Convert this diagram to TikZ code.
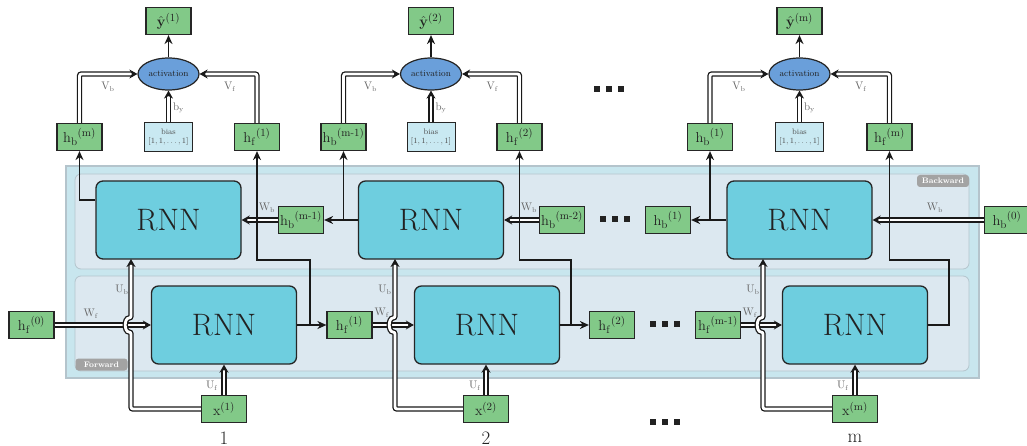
\documentclass[tikz,border=0pt]{standalone}
\usepackage{amsmath}
\usetikzlibrary{arrows.meta,shapes.geometric,calc}
\definecolor{gboxc}{HTML}{82C988}
\definecolor{rnnc}{HTML}{6ECEDF}
\definecolor{actc}{HTML}{6A9FDA}
\definecolor{biasc}{HTML}{C9E9F2}
\definecolor{outerc}{HTML}{C8E6EE}
\definecolor{innerc}{HTML}{DCE8F0}
\definecolor{panelb}{HTML}{B4C4CC}
\definecolor{tabc}{HTML}{A3A3A3}
\definecolor{lblc}{HTML}{666666}
\definecolor{txtc}{HTML}{222222}
\newcommand{\mysq}[2]{\fill[txtc] (#1-3,#2-3) rectangle (#1+3,#2+3);}
\newcommand{\mydots}[2]{\mysq{#1-12}{#2}\mysq{#1}{#2}\mysq{#1+12}{#2}}
\begin{document}
\begin{tikzpicture}[x=1pt,y=-1pt,
 gbox/.style={draw=black!85, line width=1.2pt, fill=gboxc, minimum width=45pt, minimum height=27pt, inner sep=0pt, font=\fontsize{15}{15}\selectfont, text=txtc},
 rnn/.style={draw=black!85, line width=1.3pt, fill=rnnc, rounded corners=7pt, minimum width=145pt, minimum height=78pt, inner sep=0pt, font=\fontsize{31}{31}\selectfont, text=txtc},
 act/.style={ellipse, draw=black!85, line width=1.2pt, fill=actc, minimum width=61pt, minimum height=32pt, inner sep=0pt, font=\fontsize{9}{9}\selectfont, text=txtc},
 biasbox/.style={draw=black!85, line width=1pt, fill=biasc, minimum width=48pt, minimum height=29pt, inner sep=0pt, align=center, font=\fontsize{8}{9}\selectfont, text=black!70},
 wlbl/.style={text=lblc, font=\fontsize{10.5}{10.5}\selectfont, inner sep=0pt},
 tab/.style={fill=tabc, rounded corners=3pt, text=white, font=\fontsize{8}{8}\selectfont\bfseries, inner sep=0pt},
 conn/.style={line width=1.7pt, draw=black!90, -{Stealth[length=9pt,width=8pt]}},
 dconn/.style={double, double distance=2.8pt, line width=1.3pt, draw=black!90, rounded corners=2pt, -{Stealth[length=8pt,width=9pt]}},
 seqlbl/.style={font=\fontsize{19}{19}\selectfont, text=txtc, inner sep=0pt}]
\useasboundingbox (0,0) rectangle (1027,446);
% panels
\draw[fill=outerc, draw=panelb, line width=1.3pt] (66,166) rectangle (979,378);
\draw[fill=innerc, draw=panelb, line width=0.8pt, rounded corners=6pt] (75,174) rectangle (969,269);
\draw[fill=innerc, draw=panelb, line width=0.8pt, rounded corners=6pt] (75,276) rectangle (969,371);
\node[tab, minimum width=52pt, minimum height=12pt] (fwdtab) at (101.5,364.5) {Forward};
\node[tab, minimum width=52pt, minimum height=12pt] (bwdtab) at (943,181) {Backward};
% RNN blocks
\node[rnn] (B1) at (168.5,220) {RNN};
\node[rnn] (B2) at (431,220) {RNN};
\node[rnn] (B3) at (799.5,220) {RNN};
\node[rnn] (F1) at (224,325) {RNN};
\node[rnn] (F2) at (487,325) {RNN};
\node[rnn] (F3) at (855,325) {RNN};
% backward row boxes
\node[gbox] (hbm1m) at (301,220) {$\mathrm{h_b}^{\mathrm{(m\text{-}1)}}$};
\node[gbox] (hbm2m) at (562,220) {$\mathrm{h_b}^{\mathrm{(m\text{-}2)}}$};
\node[gbox] (hb1m) at (668,220) {$\mathrm{h_b}^{\mathrm{(1)}}$};
\node[gbox] (hb0) at (1007,220) {$\mathrm{h_b}^{\mathrm{(0)}}$};
% forward row boxes
\node[gbox] (hf0) at (31.5,325) {$\mathrm{h_f}^{\mathrm{(0)}}$};
\node[gbox] (hf1m) at (349.5,325) {$\mathrm{h_f}^{\mathrm{(1)}}$};
\node[gbox] (hf2m) at (612,325) {$\mathrm{h_f}^{\mathrm{(2)}}$};
\node[gbox] (hfm1m) at (718,325) {$\mathrm{h_f}^{\mathrm{(m\text{-}1)}}$};
% inputs
\node[gbox] (x1) at (224,409) {$\mathrm{x}^{(1)}$};
\node[gbox] (x2) at (486,409) {$\mathrm{x}^{(2)}$};
\node[gbox] (xm) at (855,409) {$\mathrm{x}^{(\mathrm{m})}$};
\node[seqlbl] (s1) at (224,438) {1};
\node[seqlbl] (s2) at (486,438) {2};
\node[seqlbl] (sm) at (855,438) {m};
% top section
\node[gbox] (y1) at (168.5,21) {$\hat{\mathbf{y}}^{(1)}$};
\node[gbox] (y2) at (431,21) {$\hat{\mathbf{y}}^{(2)}$};
\node[gbox] (ym) at (799.5,21) {$\hat{\mathbf{y}}^{(\mathrm{m})}$};
\node[act] (a1) at (168.5,74) {activation};
\node[act] (a2) at (431,74) {activation};
\node[act] (am) at (799.5,74) {activation};
\node[biasbox] (bias1) at (168.5,137.5) {bias\\$[1,1,\ldots,1]$};
\node[biasbox] (bias2) at (431,137.5) {bias\\$[1,1,\ldots,1]$};
\node[biasbox] (biasm) at (799.5,137.5) {bias\\$[1,1,\ldots,1]$};
\node[gbox] (hbmt) at (79.5,137) {$\mathrm{h_b}^{\mathrm{(m)}}$};
\node[gbox] (hf1t) at (257,137) {$\mathrm{h_f}^{\mathrm{(1)}}$};
\node[gbox] (hbm1t) at (343.5,137) {$\mathrm{h_b}^{\mathrm{(m\text{-}1)}}$};
\node[gbox] (hf2t) at (519.5,137) {$\mathrm{h_f}^{\mathrm{(2)}}$};
\node[gbox] (hb1t) at (710,137) {$\mathrm{h_b}^{\mathrm{(1)}}$};
\node[gbox] (hfmt) at (889.5,137) {$\mathrm{h_f}^{\mathrm{(m)}}$};
% top connectors
\foreach \a/\y/\bi/\l/\r in {a1/y1/bias1/hbmt/hf1t, a2/y2/bias2/hbm1t/hf2t, am/ym/biasm/hb1t/hfmt}{
  \draw[conn] (\a.north) -- (\y.south);
  \draw[dconn] (\bi.north) -- (\a.south);
  \draw[dconn] (\l.north) |- (\a.west);
  \draw[dconn] (\r.north) |- (\a.east);
}
\foreach \x in {168.5,431,799.5}{
  \node[wlbl] at (\x-60.5,87) {$\mathrm{V_b}$};
  \node[wlbl] at (\x+61.5,87) {$\mathrm{V_f}$};
  \node[wlbl] at (\x+10,108) {$\mathrm{b_y}$};
}
% forward W_f arrows
\draw[dconn] (hf0.east) -- (F1.west);
\draw[dconn] (hf1m.east) -- (F2.west);
\draw[dconn] (hfm1m.east) -- (F3.west);
% backward W_b arrows
\draw[dconn] (hbm1m.west) -- (B1.east);
\draw[dconn] (hbm2m.west) -- (B2.east);
\draw[dconn] (hb0.west) -- (B3.east);
% U_f arrows
\draw[dconn] (x1.north) -- (F1.south);
\draw[dconn] (x2.north) -- (F2.south -| x2.north);
\draw[dconn] (xm.north) -- (F3.south);
% U_b arrows with hops
\coordinate (ub1) at (131,259);
\coordinate (ub2) at (395,259);
\coordinate (ub3) at (763,259);
\draw[dconn] (x1.west) -- (131,409) -- (131,332) .. controls (124,332) and (124,318) .. (131,318) -- (ub1);
\draw[dconn] (x2.west) -- (395,409) -- (395,332) .. controls (388,332) and (388,318) .. (395,318) -- (ub2);
\draw[dconn] (xm.west) -- (763,409) -- (763,332) .. controls (756,332) and (756,318) .. (763,318) -- (ub3);
% backward outputs
\draw[conn] ([yshift=20pt]B1.west) -| (hbmt.south);
\draw[conn] (B2.west) -- (hbm1m.east);
\draw[conn] (hbm1t.south |- B2.west) -- (hbm1t.south);
\draw[conn] (B3.west) -- (hb1m.east);
\draw[conn] (hb1t.south |- B3.west) -- (hb1t.south);
% forward outputs
\draw[conn] (F1.east) -- (hf1m.west);
\draw[conn] (F2.east) -- (hf2m.west);
\coordinate (j1) at (310,325);
\coordinate (k1) at (257,260);
\coordinate (j2) at (571,325);
\coordinate (k2) at (519.5,260);
\coordinate (j3) at (949,325);
\coordinate (k3) at (889.5,260);
\draw[conn] (j1) |- (k1) -- (hf1t.south);
\draw[conn] (j2) |- (k2) -- (hf2t.south);
\draw[conn] (F3.east) -- (j3) |- (k3) -- (hfmt.south);
% labels
\node[wlbl] at (267,208) {$\mathrm{W_b}$};
\node[wlbl] at (529,208) {$\mathrm{W_b}$};
\node[wlbl] at (935,208) {$\mathrm{W_b}$};
\node[wlbl] at (91,314) {$\mathrm{W_f}$};
\node[wlbl] at (382,313) {$\mathrm{W_f}$};
\node[wlbl] at (750,313) {$\mathrm{W_f}$};
\node[wlbl] at (122,290) {$\mathrm{U_b}$};
\node[wlbl] at (385,290) {$\mathrm{U_b}$};
\node[wlbl] at (753,290) {$\mathrm{U_b}$};
\node[wlbl] at (212,386) {$\mathrm{U_f}$};
\node[wlbl] at (475,386) {$\mathrm{U_f}$};
\node[wlbl] at (843,386) {$\mathrm{U_f}$};
% dots
\mydots{609}{89}
\mydots{615}{219}
\mydots{665}{324}
\mydots{664.5}{422}
\end{tikzpicture}
\end{document}
